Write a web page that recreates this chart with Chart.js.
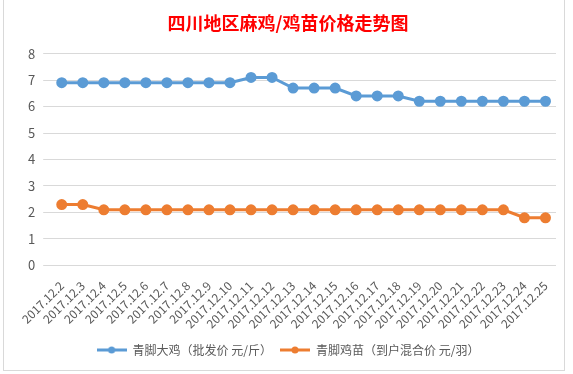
<!DOCTYPE html>
<html>
<head>
<meta charset="utf-8">
<script src="https://cdn.jsdelivr.net/npm/chart.js@4.4.0/dist/chart.umd.min.js"></script>
<style>
  body { margin: 0; background: #fff; }
  #wrap { width: 573px; height: 374px; position: relative; }
</style>
</head>
<body>
<div id="wrap"><canvas id="grafica"></canvas></div>
<script>
const fechas = ['2017.12.2','2017.12.3','2017.12.4','2017.12.5','2017.12.6','2017.12.7','2017.12.8',
  '2017.12.9','2017.12.10','2017.12.11','2017.12.12','2017.12.13','2017.12.14','2017.12.15',
  '2017.12.16','2017.12.17','2017.12.18','2017.12.19','2017.12.20','2017.12.21','2017.12.22',
  '2017.12.23','2017.12.24','2017.12.25'];
const precioPollo = [6.9,6.9,6.9,6.9,6.9,6.9,6.9,6.9,6.9,7.1,7.1,6.7,6.7,6.7,6.4,6.4,6.4,6.2,6.2,6.2,6.2,6.2,6.2,6.2];
const precioPollito = [2.3,2.3,2.1,2.1,2.1,2.1,2.1,2.1,2.1,2.1,2.1,2.1,2.1,2.1,2.1,2.1,2.1,2.1,2.1,2.1,2.1,2.1,1.8,1.8];
const ticksY = [0,1,2,3,4,5,6,7,8];

const fuente = '"Noto Sans CJK SC", "Microsoft YaHei", sans-serif';

// icono de leyenda: linea con punto
function iconoLeyenda(color) {
  const c = document.createElement('canvas');
  c.width = 30; c.height = 10;
  const ctx = c.getContext('2d');
  ctx.strokeStyle = color;
  ctx.lineWidth = 3;
  ctx.beginPath(); ctx.moveTo(0, 5); ctx.lineTo(30, 5); ctx.stroke();
  ctx.fillStyle = color;
  ctx.beginPath(); ctx.arc(15, 5, 3.5, 0, Math.PI * 2); ctx.fill();
  return c;
}

const fondo = {
  id: 'fondo',
  beforeDraw(chart) {
    const ctx = chart.ctx;
    ctx.save();
    ctx.fillStyle = '#fff';
    ctx.fillRect(0, 0, chart.width, chart.height);
    ctx.strokeStyle = '#d9d9d9';
    ctx.lineWidth = 1;
    ctx.strokeRect(3.5, -1, 561, 371.5);
    ctx.restore();
  }
};

new Chart(document.getElementById('grafica'), {
  type: 'line',
  data: {
    labels: fechas,
    datasets: [
      {
        label: '青脚大鸡（批发价 元/斤）',
        data: precioPollo,
        borderColor: '#5b9bd5',
        backgroundColor: '#5b9bd5',
        borderWidth: 3,
        pointRadius: 4,
        pointHoverRadius: 4,
        tension: 0
      },
      {
        label: '青脚鸡苗（到户混合价 元/羽）',
        data: precioPollito,
        borderColor: '#ed7d31',
        backgroundColor: '#ed7d31',
        borderWidth: 3,
        pointRadius: 4,
        pointHoverRadius: 4,
        tension: 0
      }
    ]
  },
  options: {
    responsive: true,
    maintainAspectRatio: false,
    animation: false,
    layout: { padding: { left: 20, right: 17, top: 6, bottom: 8 } },
    plugins: {
      title: {
        display: true,
        text: '四川地区麻鸡/鸡苗价格走势图',
        color: '#ff0000',
        font: { family: fuente, size: 18, weight: 'bold' },
        padding: { top: 6, bottom: 20 }
      },
      legend: {
        position: 'bottom',
        labels: {
          color: '#595959',
          font: { family: fuente, size: 12 },
          usePointStyle: true,
          pointStyleWidth: 30,
          padding: 8,
          generateLabels(chart) {
            return chart.data.datasets.map((ds, i) => ({
              text: ds.label,
              fillStyle: ds.borderColor,
              strokeStyle: ds.borderColor,
              fontColor: '#595959',
              lineWidth: 0,
              pointStyle: iconoLeyenda(ds.borderColor),
              datasetIndex: i,
              hidden: false
            }));
          }
        }
      },
      tooltip: { enabled: false }
    },
    scales: {
      x: {
        offset: true,
        grid: { display: false },
        border: { display: false },
        ticks: {
          color: '#595959',
          font: { family: fuente, size: 12 },
          minRotation: 45,
          maxRotation: 45,
          autoSkip: false,
          padding: 5
        }
      },
      y: {
        min: 0,
        max: 8,
        afterBuildTicks(axis) { axis.ticks = ticksY.map(v => ({ value: v })); },
        grid: { color: '#d9d9d9', lineWidth: 1 },
        border: { display: false },
        ticks: {
          color: '#595959',
          font: { family: fuente, size: 13 },
          padding: 8
        }
      }
    }
  },
  plugins: [fondo]
});
</script>
</body>
</html>
